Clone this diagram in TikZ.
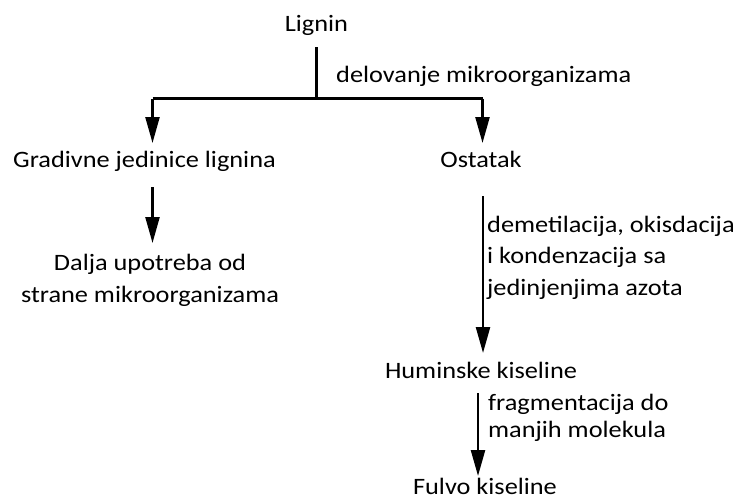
\documentclass[tikz,border=0pt]{standalone}
\usepackage{fontspec}
\setmainfont{Carlito}[FakeStretch=1.12]
\usetikzlibrary{arrows.meta}
\begin{document}
\begin{tikzpicture}[x=1pt,y=-1pt,
  txt/.style={inner sep=0pt, anchor=base, font=\fontsize{23.5}{31.5}\selectfont},
  lbl/.style={txt, anchor=base west, align=left},
  conn/.style={line width=2.4pt},
  arr/.style={conn, -{Triangle[length=26pt,width=14pt]}}]
\useasboundingbox (0,0) rectangle (739,499);
\node[txt] (lignin) at (316.5,31) {Lignin};
\coordinate (top) at (316.5,47);
\coordinate (j) at (316.5,98.5);
\coordinate (jl) at (152.5,98.5);
\coordinate (jr) at (482.5,98.5);
\coordinate (tl) at (152.5,143);
\coordinate (tr) at (482.5,143);
\node[lbl] (l1) at (336,82) {delovanje mikroorganizama};
\node[txt] (grad) at (144.5,167) {Gradivne jedinice lignina};
\node[txt] (ost) at (481,167) {Ostatak};
\node[txt, align=center] (dalja) at (150,302) {Dalja upotreba od\\strane mikroorganizama};
\node[lbl] (l2) at (487,295) {demetilacija, okisdacija\\i kondenzacija sa\\jedinjenjima azota};
\node[txt] (hum) at (481,378) {Huminske kiseline};
\node[lbl, font=\fontsize{23.5}{27}\selectfont] (l3) at (488,437) {fragmentacija do\\manjih molekula};
\node[txt] (ful) at (485,494) {Fulvo kiseline};
\coordinate (a1) at (152.5,187);
\coordinate (a1e) at (152.5,243);
\coordinate (a2) at (483,196);
\coordinate (a2e) at (483,353);
\coordinate (a3) at (478,393);
\coordinate (a3e) at (478,476);
\draw[conn] (top) -- (j);
\draw[conn] (jl) -- (jr);
\draw[arr] (jl) -- (tl);
\draw[arr] (jr) -- (tr);
\draw[arr] (a1) -- (a1e);
\draw[arr] (a2) -- (a2e);
\draw[arr] (a3) -- (a3e);
\end{tikzpicture}
\end{document}
